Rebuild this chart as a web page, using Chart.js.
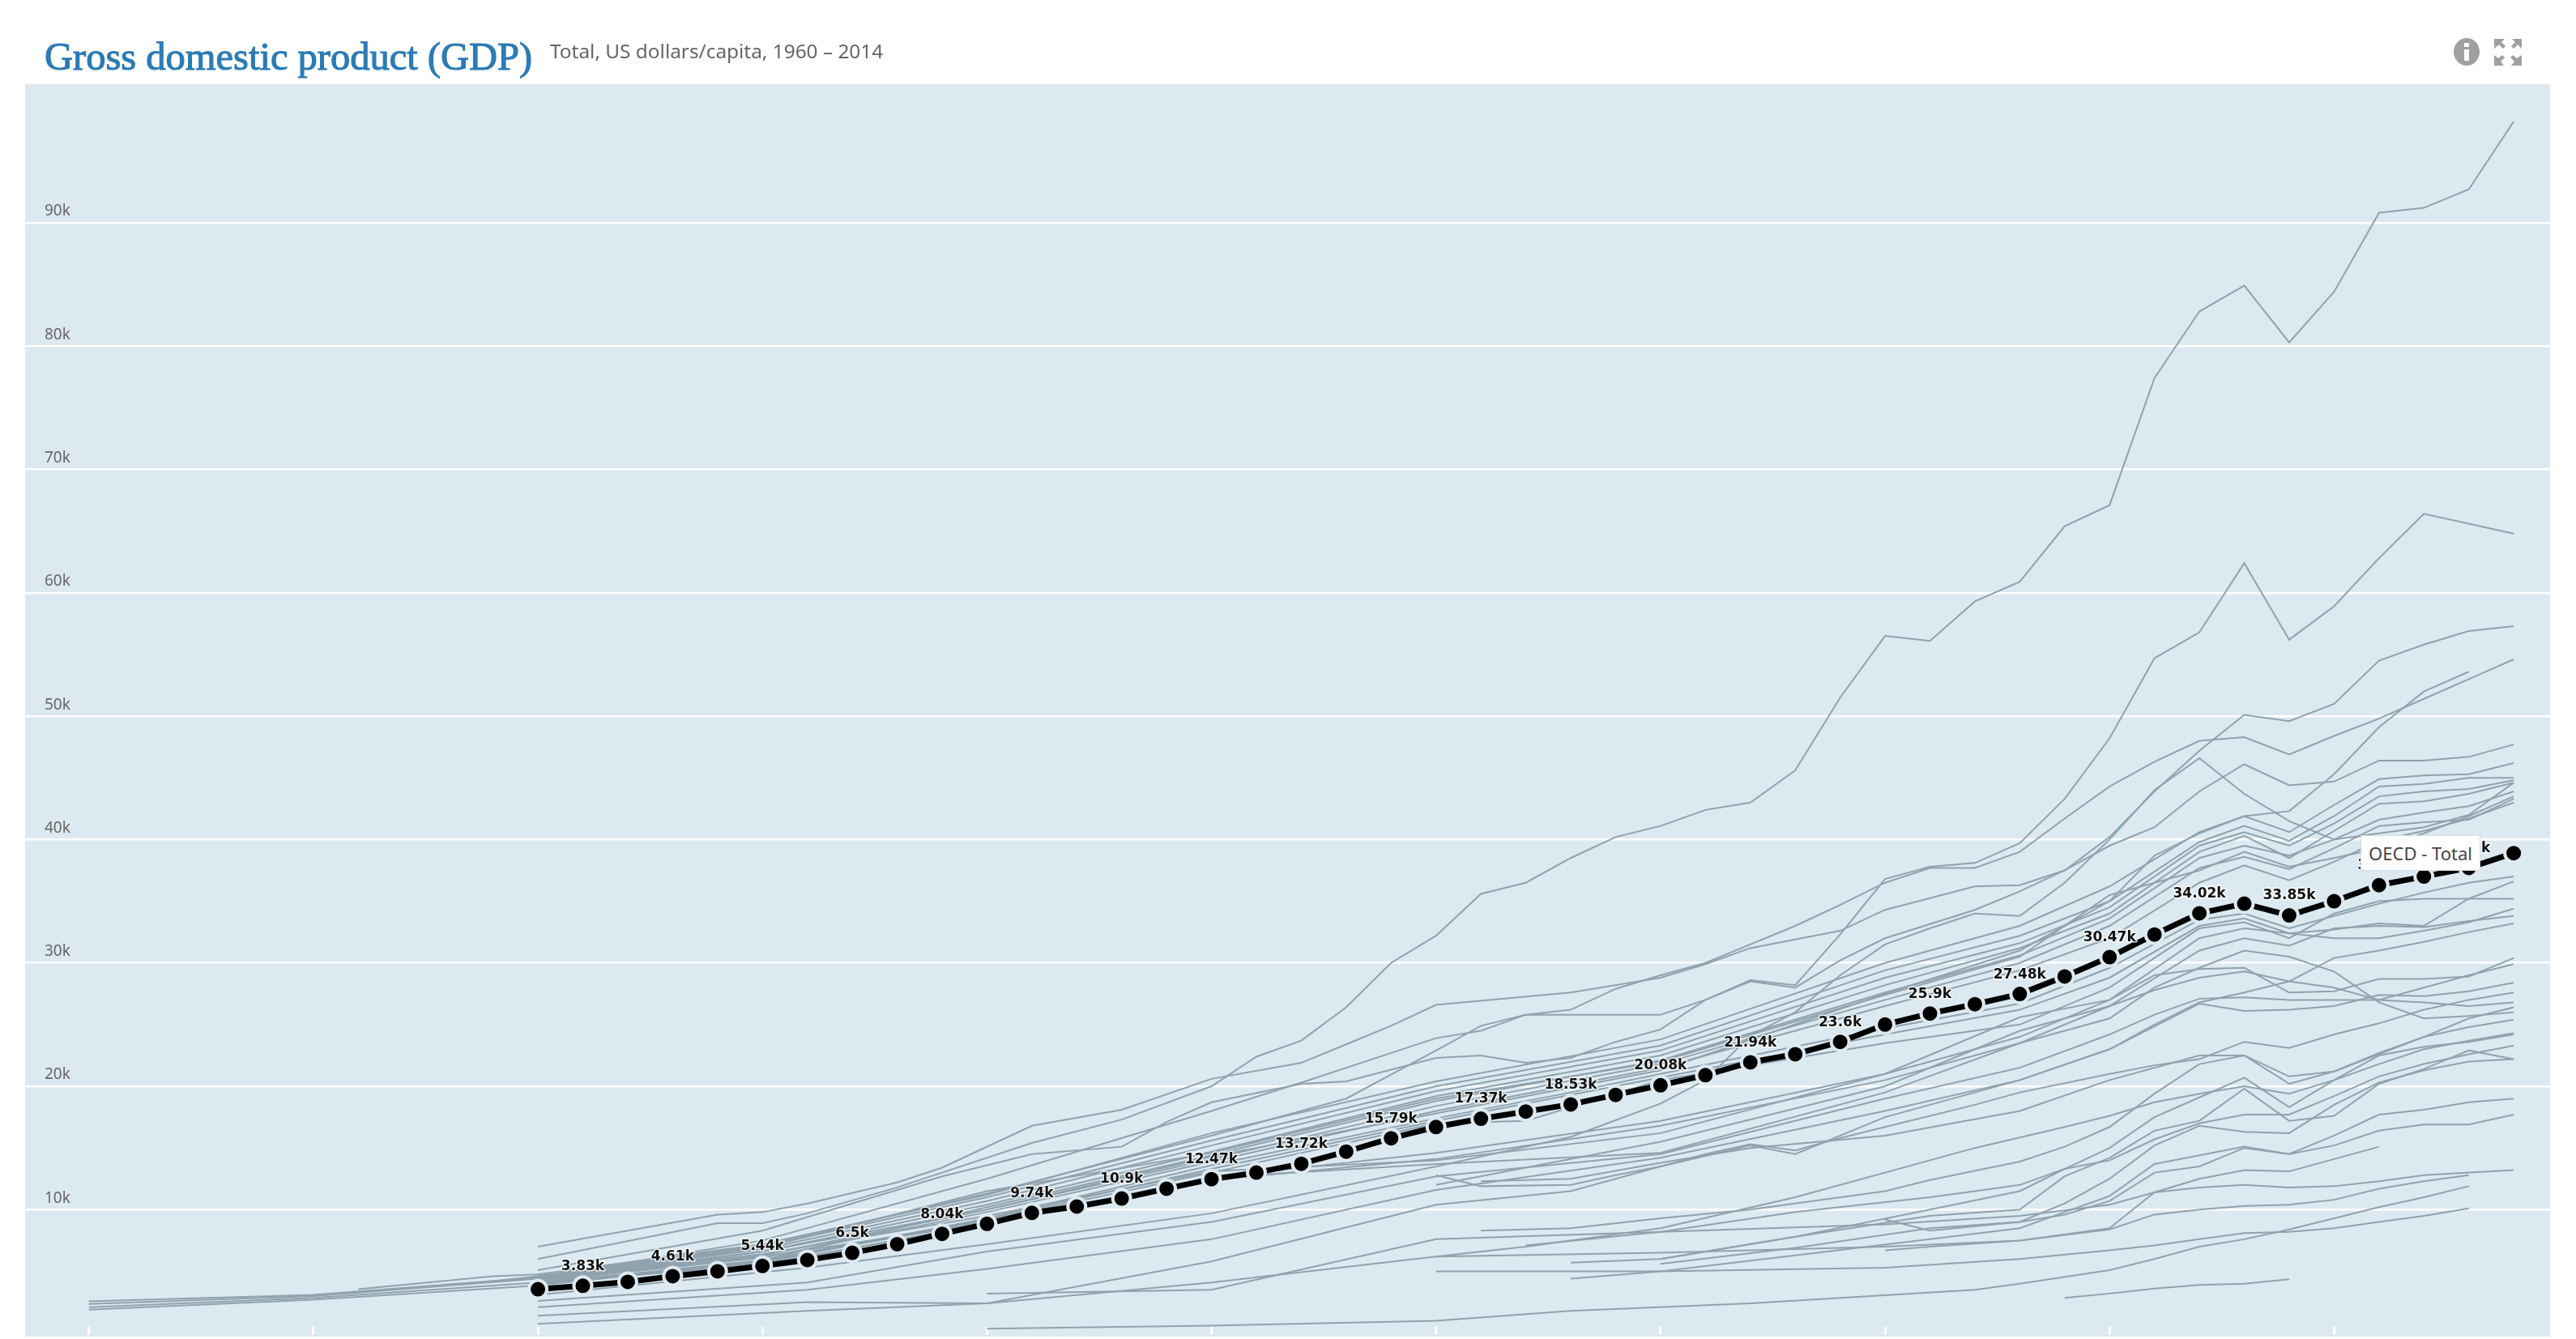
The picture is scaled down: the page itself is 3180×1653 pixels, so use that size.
<!DOCTYPE html>
<html>
<head>
<meta charset="utf-8">
<title>Gross domestic product (GDP)</title>
<script src="https://cdn.jsdelivr.net/npm/chart.js@4/dist/chart.umd.min.js"></script>
<style>
  html, body { margin: 0; padding: 0; background: #fff; overflow: hidden; }
  #page { position: relative; width: 3180px; height: 1653px; }
  #plotbg { position: absolute; left: 31px; top: 104px; width: 3117px; height: 1546px; background: #dce9f1; }
  #c { position: absolute; left: 0; top: 0; }
  #title { position: absolute; left: 55px; top: 42px; font: 48.5px "Liberation Serif", serif; -webkit-text-stroke: 1.1px #2b7bb5; color: #2b7bb5; white-space: nowrap; }
  #sub { position: absolute; left: 679px; top: 46px; font: 24.4px "Noto Sans", sans-serif; color: #666; white-space: nowrap; }
  #tip { position: absolute; left: 2914px; top: 1031px; width: 148px; height: 44px; box-sizing: border-box; background: #fff;
         border: 1px solid #cfe0ea; font: 22px "Noto Sans", sans-serif; color: #444; line-height: 42px; text-align: center; white-space: nowrap; }
  #icons { position: absolute; left: 3028px; top: 46px; }
</style>
</head>
<body>
<div id="page">
  <div id="plotbg"></div>
  <canvas id="c" width="3180" height="1653"></canvas>
  <div id="title">Gross domestic product (GDP)</div>
  <div id="sub">Total, US dollars/capita, 1960 – 2014</div>
  <svg id="icons" width="90" height="36" viewBox="0 0 90 36">
    <ellipse cx="17" cy="18" rx="16" ry="17" fill="#a0a0a0"/>
    <rect x="14" y="15" width="6" height="14" fill="#fff"/>
    <rect x="14" y="7" width="6" height="5" fill="#fff"/>
    <g fill="#a0a0a0">
      <path d="M51 2h13l-4 4 5 5-3 3-5-5-6 5z"/>
      <path d="M85 2v12l-5-5-5 5-3-3 5-5-4-4z"/>
      <path d="M51 35V22l5 4 5-4 3 3-5 5 4 5z"/>
      <path d="M85 35H72l4-5-5-5 3-3 5 4 6-4z"/>
    </g>
  </svg>
  <div id="tip">OECD - Total</div>
</div>
<script>
// everything in thousands of US dollars per capita
const xTicks = [1960,1965,1970,1975,1980,1985,1990,1995,2000,2005,2010];
const yTicks = [10,20,30,40,50,60,70,80,90];

const oecdYears = [1970,1971,1972,1973,1974,1975,1976,1977,1978,1979,1980,1981,1982,1983,1984,1985,1986,1987,1988,1989,1990,1991,1992,1993,1994,1995,1996,1997,1998,1999,2000,2001,2002,2003,2004,2005,2006,2007,2008,2009,2010,2011,2012,2013,2014];
const oecdValues = [3.55,3.83,4.15,4.61,5.0,5.44,5.92,6.5,7.2,8.04,8.85,9.74,10.25,10.9,11.7,12.47,13.0,13.72,14.7,15.79,16.7,17.37,17.95,18.53,19.3,20.08,20.9,21.94,22.6,23.6,25.0,25.9,26.65,27.48,28.9,30.47,32.3,34.02,34.8,33.85,35.0,36.3,37.0,37.7,38.9];

// the grey countries, [year, value]
const lux = [[1970,6],[1974,8.9],[1975,8.9],[1976,9.7],[1978,11.8],[1981,15.4],[1983,17.3],[1985,20],[1986,22.4],[1987,23.7],[1988,26.4],[1989,30],[1990,32.2],[1991,35.6],[1992,36.5],[1993,38.5],[1994,40.2],[1995,41.1],[1996,42.4],[1997,43],[1998,45.6],[1999,51.5],[2000,56.5],[2001,56.1],[2002,59.3],[2003,60.9],[2004,65.4],[2005,67.1],[2006,77.4],[2007,82.8],[2008,84.9],[2009,80.3],[2010,84.4],[2011,90.8],[2012,91.2],[2013,92.7],[2014,98.2]];
const nor = [[1970,5.1],[1975,8.3],[1979,12.7],[1981,14.5],[1983,15.1],[1984,17.1],[1985,18.7],[1987,20.2],[1988,20.4],[1990,22.3],[1991,22.5],[1992,21.9],[1993,22.3],[1994,23.6],[1995,24.6],[1996,27],[1997,28.6],[1998,28.2],[1999,32.3],[2000,36.8],[2001,37.8],[2002,38.1],[2003,39.7],[2004,43.3],[2005,48.2],[2006,54.7],[2007,56.8],[2008,62.4],[2009,56.2],[2010,58.9],[2011,62.8],[2012,66.4],[2013,65.6],[2014,64.8]];
const che = [[1970,7],[1974,9.6],[1975,9.8],[1976,10.5],[1978,12.2],[1979,13.4],[1981,16.8],[1983,18.1],[1985,20.6],[1987,21.9],[1988,23.4],[1989,24.9],[1990,26.6],[1993,27.6],[1995,28.8],[1996,29.9],[1997,31.2],[1998,31.9],[1999,32.6],[2000,34.3],[2002,36.2],[2003,36.3],[2004,37.5],[2005,40.2],[2006,43.9],[2007,47.2],[2008,50.1],[2009,49.6],[2010,51],[2011,54.5],[2012,55.8],[2013,56.9],[2014,57.3]];
const usa = [[1960,2.57],[1965,3.1],[1970,4.5],[1975,7.5],[1980,12.5],[1985,18],[1987,20.3],[1990,23.9],[1991,24.5],[1992,25.8],[1993,26.2],[1994,27.9],[1995,29],[1996,30],[1997,31.5],[1998,33],[1999,34.7],[2000,36.5],[2001,37.7],[2002,37.7],[2003,39],[2004,41.7],[2005,44.3],[2006,46.3],[2007,48],[2008,48.3],[2009,46.9],[2010,48.4],[2011,49.8],[2012,51.4],[2013,53],[2014,54.6]];
const nld = [[1970,4.6],[1975,7.1],[1980,11.3],[1985,16],[1988,19],[1990,22.9],[1991,24.9],[1992,25.8],[1995,25.8],[1996,27],[1997,28.5],[1998,28],[1999,30.2],[2000,32],[2002,34.3],[2003,35.8],[2004,37.5],[2005,39.5],[2006,41],[2007,43.9],[2008,46.1],[2009,44.4],[2010,44.7],[2011,46.4],[2012,46.4],[2013,46.7],[2014,47.7]];
const irl = [[1970,3.1],[1976,5.3],[1980,7.2],[1985,9.7],[1990,13.5],[1993,15.9],[1995,18.6],[1996,20.5],[1997,24.1],[1998,26],[1999,29],[2000,31.5],[2001,32.8],[2002,34],[2003,33.8],[2004,36.5],[2005,40],[2006,44],[2007,46.6],[2008,43.7],[2009,41.5],[2010,40],[2011,40.5],[2012,41],[2013,42],[2014,44.6]];
const aus = [[1970,4.4],[1975,6.6],[1980,10],[1985,14.3],[1990,17.8],[1995,21.3],[2000,27.5],[2003,31],[2005,35],[2006,38.7],[2007,40.5],[2008,41.9],[2009,42.3],[2010,45.3],[2011,49.1],[2012,52],[2013,53.6]];
const s1 = [[1966,3.55],[1969,4.6],[1970,4.75],[1975,7.2],[1980,11.2],[1985,16.2],[1990,20.4],[1995,23.8],[2000,30],[2003,33],[2005,36.2],[2007,40.6],[2008,41.9],[2009,40.6],[2010,42.8],[2011,44.9],[2012,45.2],[2013,45.3],[2014,46.2]];
const s2 = [[1969,4.2],[1970,4.6],[1975,7],[1980,11],[1985,15.6],[1990,20],[1995,23.3],[2000,29.4],[2003,32.2],[2005,35],[2007,39.8],[2008,41.1],[2009,39.9],[2010,41.9],[2011,44.3],[2012,44.5],[2013,45],[2014,45]];
const s3 = [[1960,2.35],[1965,3],[1970,4.4],[1975,6.8],[1980,10.7],[1985,15.2],[1990,19.6],[1995,22.9],[2000,28.8],[2003,31.6],[2005,34.5],[2007,39.5],[2008,40.6],[2009,39.5],[2010,41.3],[2011,43.5],[2012,43.9],[2013,44.1],[2014,44.8]];
const s4 = [[1960,2.1],[1965,2.85],[1970,4.1],[1975,6.6],[1980,10.4],[1985,14.7],[1990,19.2],[1995,22.5],[2000,28.2],[2003,31.2],[2005,34],[2007,39],[2008,40.3],[2009,38.5],[2010,40.7],[2011,42.9],[2012,43.1],[2013,43.7],[2014,44.6]];
const s5 = [[1960,1.9],[1965,2.7],[1970,3.85],[1975,5.9],[1980,10.2],[1985,14.4],[1990,18.8],[1995,22.1],[2000,27.6],[2003,30.6],[2005,33.6],[2007,38.5],[2008,39.5],[2009,38.7],[2010,40],[2011,41.6],[2012,42.2],[2013,42.7],[2014,43.9]];
const s6 = [[1970,4.3],[1975,6.3],[1980,10],[1985,14.1],[1990,18.4],[1995,21.8],[2000,27],[2003,30],[2005,33],[2007,37.7],[2008,38.6],[2009,37.6],[2010,39.3],[2011,41.1],[2012,41.4],[2013,41.6],[2014,43.3]];
const s7 = [[1970,4.2],[1975,6.1],[1980,9.8],[1985,13.9],[1990,18],[1995,21.5],[2000,26.5],[2003,29.4],[2005,32],[2007,36.5],[2008,37.9],[2009,36.7],[2010,38.2],[2011,39.9],[2012,40.7],[2013,41.7],[2014,43]];
const isl = [[1970,4.5],[1975,6.9],[1980,11.5],[1985,14.6],[1990,19],[1995,22],[2000,27.4],[2003,30.5],[2005,35.5],[2007,37.5],[2008,39],[2009,37.8],[2010,38.5],[2011,39.3],[2012,40.5],[2013,41.9],[2014,43.5]];
const u1 = [[1970,3.9],[1975,5.7],[1980,9.3],[1985,13.6],[1990,17.4],[1993,19.5],[1995,21],[2000,24.7],[2003,26.7],[2005,29.6],[2007,33.5],[2008,34],[2009,32.8],[2010,33.8],[2011,34.8],[2012,35.7],[2013,36.5],[2014,37]];
const u2 = [[1970,4.05],[1975,5.9],[1980,9.2],[1985,13.3],[1990,17.2],[1995,20.7],[2000,24.2],[2003,26.2],[2005,28.8],[2007,33],[2008,33.6],[2009,32.4],[2010,32.7],[2011,33.2],[2012,33],[2013,35.2],[2014,36.6]];
const u3 = [[1970,4],[1975,5.8],[1980,9.1],[1985,13],[1990,17],[1992,17.2],[1995,20.5],[2000,23.5],[2003,25],[2005,28],[2007,32.8],[2008,33.3],[2009,32],[2010,34],[2011,35],[2012,35.2],[2013,35.2],[2014,35.2]];
const u4 = [[1970,4.1],[1975,5.5],[1980,8.9],[1985,12.6],[1990,14.6],[1995,17.2],[2000,21],[2003,24],[2005,27],[2007,32],[2008,32.8],[2009,32.4],[2010,32],[2011,32],[2012,32.6],[2013,33.3],[2014,34.4]];
const u5 = [[1970,4.2],[1975,5.6],[1980,8.8],[1985,12.4],[1990,14.1],[1995,16.8],[2000,20.5],[2003,23.5],[2005,26.5],[2007,31],[2008,32],[2009,31.4],[2010,32.8],[2011,33],[2012,32.9],[2013,33.4],[2014,33.8]];
const kor = [[1970,0.75],[1976,1.8],[1980,2.4],[1985,5.8],[1990,10.4],[1993,11.5],[1995,13.5],[1997,15.2],[1998,14.5],[2000,17.5],[2003,20.5],[2005,23],[2006,25],[2007,26.8],[2008,27.6],[2009,28.5],[2010,30.4],[2011,31],[2012,31.7],[2013,32.5],[2014,33.2]];
const grc = [[1970,4.3],[1975,6.2],[1980,8.9],[1985,12.6],[1990,13.7],[1995,14.6],[2000,19.5],[2003,23.5],[2005,25.5],[2006,28],[2007,29.6],[2008,31],[2009,30.5],[2010,29.3],[2011,26.8],[2012,25.5],[2013,25.7],[2014,26]];
const q1 = [[1970,4.4],[1975,6.4],[1980,9.5],[1985,13.1],[1990,14],[1995,16.2],[2000,21],[2003,25.6],[2005,27],[2006,29],[2007,29.5],[2008,29.6],[2009,27.6],[2010,27.7],[2011,28.7],[2012,28.7],[2013,28.9],[2014,30.4]];
const r1 = [[1990,12],[1995,15.5],[2000,20],[2003,24.5],[2005,26.5],[2006,27.8],[2007,28.8],[2008,29.3],[2009,28.5],[2010,28],[2011,27],[2012,28],[2013,29],[2014,29.9]];
const t1 = [[1970,2.6],[1976,4.1],[1980,6.6],[1985,9],[1990,12.7],[1995,14.5],[2000,19],[2003,21.5],[2005,24.2],[2006,25.8],[2007,27.1],[2008,27.2],[2009,27],[2010,27],[2011,27],[2012,26.8],[2013,26.5],[2014,26.8]];
const t2 = [[1970,2.1],[1976,3.5],[1980,5.2],[1985,7.6],[1990,11.6],[1995,14.2],[2000,18],[2003,20.5],[2005,23],[2007,26.7],[2008,26.1],[2009,26.2],[2010,26.5],[2011,27.4],[2012,27.3],[2013,27.7],[2014,28.4]];
const cze = [[1990,12.8],[1991,11.9],[1993,12],[1994,12.8],[1995,13.5],[1996,14.5],[1997,15.3],[1998,14.8],[1999,15.8],[2000,16.7],[2002,18.5],[2003,19.5],[2005,21],[2006,21.7],[2007,22.2],[2008,23.6],[2009,23.1],[2010,24.2],[2011,25.1],[2012,26.2],[2013,27],[2014,27.6]];
const svk = [[1991,12.3],[1993,12.5],[1995,13.8],[1997,15],[2000,16],[2003,18],[2005,20.5],[2007,22.5],[2008,22.5],[2009,20.8],[2010,21.2],[2011,22.6],[2012,24],[2013,25.5],[2014,26.4]];
const v1 = [[1991,8.3],[1993,8.5],[1995,9.3],[1997,10],[2000,11.5],[2001,12.4],[2003,13.9],[2004,15.1],[2005,16.7],[2006,19.4],[2007,21.8],[2008,22.5],[2009,20.2],[2010,21.2],[2011,22.7],[2012,24],[2013,24.8],[2014,25.4]];
const x1 = [[1990,6.2],[1992,7],[1995,8.5],[1998,11],[2001,14],[2002,15],[2004,16.7],[2005,17.6],[2006,18.7],[2007,19.4],[2008,20],[2009,19.4],[2010,20.5],[2011,21.8],[2012,23],[2013,23.7],[2014,24.3]];
const v3 = [[1992,7.1],[1995,8.2],[1998,9.8],[2001,11],[2002,11.5],[2003,12],[2004,13.3],[2005,15],[2006,17.5],[2007,19.1],[2008,20.7],[2009,18.3],[2010,20.5],[2011,22.5],[2012,23.2],[2013,23.6],[2014,24.2]];
const v7 = [[1993,5.7],[1995,6],[1998,7.8],[2001,10],[2003,11.5],[2004,13.3],[2005,14],[2006,15.7],[2007,17],[2008,17.7],[2009,17.7],[2010,19.2],[2011,20.8],[2012,21.8],[2013,22.6],[2014,23.3]];
const v5 = [[1995,6],[1998,7.8],[2001,9.5],[2003,10],[2004,12.7],[2005,14.2],[2006,16.4],[2007,17.2],[2008,19.8],[2009,17.2],[2010,17.6],[2011,20.2],[2012,21.4],[2013,22.9],[2014,22.2]];
const v6 = [[1995,5.6],[1998,6.9],[2001,8.5],[2003,9],[2004,10.5],[2005,12.5],[2006,15.2],[2007,16.8],[2008,16.3],[2009,16.2],[2010,18.5],[2011,20.3],[2012,21.3],[2013,22],[2014,22.2]];
const v8 = [[1993,4.4],[1995,5],[1998,6.3],[2001,7.6],[2003,8.5],[2004,9.8],[2005,11.1],[2006,13.7],[2007,14.4],[2008,15.1],[2009,14.5],[2010,16],[2011,17.7],[2012,18.1],[2013,18.7],[2014,19]];
const v9 = [[2000,9.2],[2001,8.3],[2003,9],[2004,9.6],[2005,10.7],[2006,13],[2007,13.5],[2008,15],[2009,14.5],[2010,15.2],[2011,16.4],[2012,16.9],[2013,16.9],[2014,17.7]];
const v10 = [[2000,6.7],[2001,7],[2003,7.5],[2005,8.5],[2006,11.4],[2007,12.5],[2008,13.2],[2009,13.1],[2010,14.1],[2011,15.1]];
const v11 = [[1980,3.2],[1985,3.5],[1990,7.6],[1995,8.2],[2000,8.8],[2003,9.5],[2005,10.4],[2006,11.4],[2007,11.8],[2008,12],[2009,11.8],[2010,11.9],[2011,12.3],[2012,12.8],[2013,13],[2014,13.2]];
const v12 = [[1970,1.4],[1976,2.5],[1980,2.4],[1985,4.1],[1990,6.2],[1995,6.5],[2000,7],[2003,7.5],[2005,8.4],[2006,9.6],[2007,10],[2008,10.3],[2009,10.4],[2010,10.8],[2011,11.7],[2012,12.3],[2013,12.8]];
const v13 = [[1990,5],[1995,5],[2000,5.3],[2003,6],[2005,6.7],[2006,7.1],[2007,7.6],[2008,8.1],[2009,8.2],[2010,8.5],[2011,9],[2012,9.5],[2013,10.1]];
const v14 = [[1980,0.35],[1985,0.6],[1990,1],[1993,1.8],[1997,2.4],[2002,3.5],[2003,4],[2005,5.1],[2006,6],[2007,7],[2008,7.6],[2009,8.4],[2010,9.3],[2011,10.2],[2012,11],[2013,11.9]];
const v15 = [[2004,2.85],[2005,3.2],[2006,3.6],[2007,3.9],[2008,4],[2009,4.35]];

const greySeries = [lux,nor,che,usa,nld,irl,aus,s1,s2,s3,s4,s5,s6,s7,isl,u1,u2,u3,u4,u5,kor,grc,q1,r1,t1,t2,cze,svk,v1,x1,v3,v7,v5,v6,v8,v9,v10,v11,v12,v13,v14,v15];

const pairsToPoints = (pairs) => pairs.map(p => ({x: p[0], y: p[1]}));

// labels on every second OECD point, white halo round the text
const oecdLabels = {
  id: 'oecdLabels',
  afterDatasetsDraw(chart) {
    const pts = chart.getDatasetMeta(0).data;
    const ctx = chart.ctx;
    ctx.save();
    ctx.font = 'bold 17px "DejaVu Sans"';
    ctx.textAlign = 'center';
    ctx.textBaseline = 'middle';
    ctx.lineJoin = 'round';
    pts.forEach((pt, i) => {
      if (oecdYears[i] % 2 === 0) return;
      const txt = oecdValues[i] + 'k';
      ctx.strokeStyle = 'rgba(255,255,255,0.8)';
      ctx.lineWidth = 3;
      ctx.strokeText(txt, pt.x, pt.y - 24);
      ctx.fillStyle = '#111';
      ctx.fillText(txt, pt.x, pt.y - 24);
    });
    ctx.restore();
  }
};

const datasets = [{
  data: oecdYears.map((yr, i) => ({x: yr, y: oecdValues[i]})),
  borderColor: '#000',
  borderWidth: 7,
  pointRadius: 11,
  pointBackgroundColor: '#000',
  pointBorderColor: '#dde8ef',
  pointBorderWidth: 4,
  tension: 0,
  clip: false
}];
greySeries.forEach(s => datasets.push({
  data: pairsToPoints(s),
  borderColor: '#8fa2ae',
  borderWidth: 2,
  pointRadius: 0,
  tension: 0,
  clip: false
}));

new Chart(document.getElementById('c'), {
  type: 'line',
  data: {datasets: datasets},
  plugins: [oecdLabels],
  options: {
    responsive: false,
    animation: false,
    layout: {padding: {left: 31, right: 32, top: 104, bottom: 3}},
    plugins: {legend: {display: false}, tooltip: {enabled: false}},
    scales: {
      x: {
        type: 'linear',
        min: 1958.58,
        max: 2014.81,
        afterBuildTicks: (axis) => { axis.ticks = xTicks.map(v => ({value: v})); },
        afterFit: (axis) => { axis.height = 10; },
        grid: {drawOnChartArea: false, color: '#fff', lineWidth: 3, tickLength: 10},
        border: {display: false},
        ticks: {display: false}
      },
      y: {
        min: 0.5,
        max: 101.22,
        afterBuildTicks: (axis) => { axis.ticks = yTicks.map(v => ({value: v})); },
        // tick padding would otherwise eat into the chart area
        afterFit: (axis) => { axis.width = 0; axis.paddingTop = 0; axis.paddingBottom = 0; },
        grid: {color: '#fff', lineWidth: 2.5, drawTicks: false},
        border: {display: false},
        ticks: {
          mirror: true,
          padding: 24,
          labelOffset: -14,
          color: '#666',
          font: {family: '"Noto Sans"', size: 19},
          callback: (v) => v + 'k'
        }
      }
    }
  }
});
</script>
</body>
</html>
